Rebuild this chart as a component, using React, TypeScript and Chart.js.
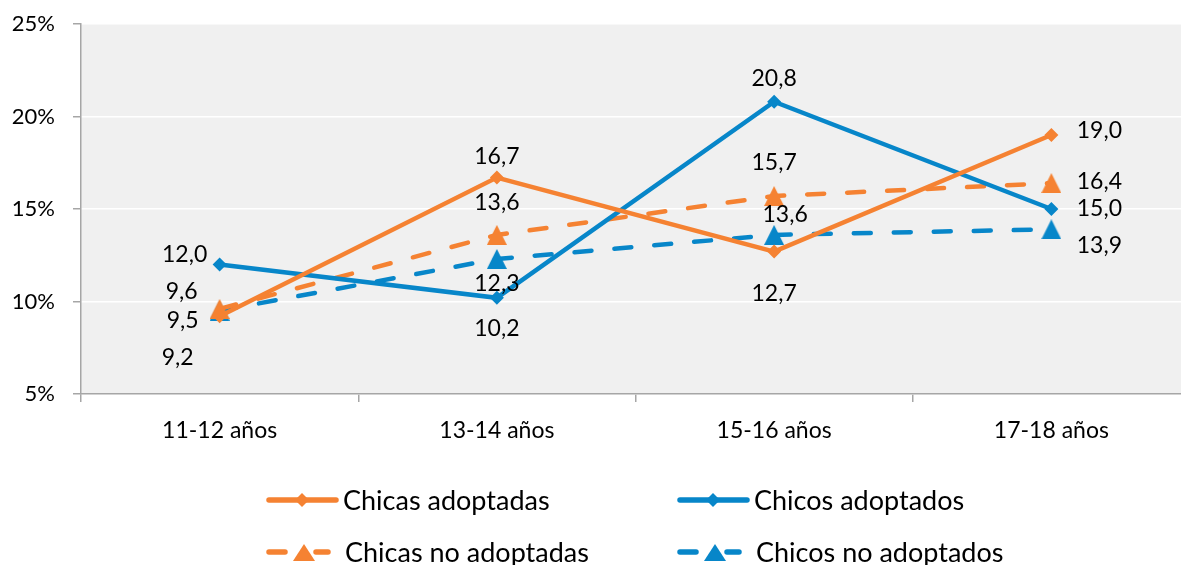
import React, { useEffect, useRef } from "react";
import { Chart, registerables } from "chart.js";

Chart.register(...registerables);

const categories = ["11-12 años", "13-14 años", "15-16 años", "17-18 años"];
const chicasAdoptadas = [9.2, 16.7, 12.7, 19.0];
const chicosAdoptados = [12.0, 10.2, 20.8, 15.0];
const chicasNoAdoptadas = [9.6, 13.6, 15.7, 16.4];
const chicosNoAdoptados = [9.5, 12.3, 13.6, 13.9];
const seriesNames = ["Chicas adoptadas", "Chicos adoptados", "Chicas no adoptadas", "Chicos no adoptados"];
const yMin = 5;
const yMax = 25;
const yStep = 5;

const ORANGE = "#F58232";
const BLUE = "#0786C9";
const FONT = "Lato, 'Noto Sans', sans-serif";

// label offsets (style): [dx, dy] per series per point
const labelOffsets = [
  [[-42, 41], [0, -21], [0, 42], [48, -4]],
  [[-35, -10], [0, 31], [0, -23], [48, 0]],
  [[-38, -17], [0, -32], [0, -33], [48, -2]],
  [[-37, 10], [0, 25], [11, -20], [48, 16]],
];

function triangleImage(color: string) {
  const c = document.createElement("canvas");
  c.width = 20;
  c.height = 20;
  const g = c.getContext("2d")!;
  g.fillStyle = color;
  g.beginPath();
  g.moveTo(10, 0);
  g.lineTo(20, 20);
  g.lineTo(0, 20);
  g.closePath();
  g.fill();
  return c;
}

const bgPlugin = {
  id: "plotBg",
  beforeDraw(chart: any) {
    const { ctx, chartArea } = chart;
    ctx.save();
    ctx.fillStyle = "#F0F0F0";
    ctx.fillRect(chartArea.left, chartArea.top, chartArea.right - chartArea.left, chartArea.bottom - chartArea.top);
    ctx.restore();
  },
};

const labelPlugin = {
  id: "valueLabels",
  afterDatasetsDraw(chart: any) {
    const ctx = chart.ctx;
    ctx.save();
    ctx.font = `23px ${FONT}`;
    ctx.fillStyle = "#000";
    ctx.textAlign = "center";
    ctx.textBaseline = "middle";
    chart.data.datasets.forEach((ds: any, i: number) => {
      const meta = chart.getDatasetMeta(i);
      meta.data.forEach((pt: any, j: number) => {
        const v = ds.data[j] as number;
        const [dx, dy] = labelOffsets[i][j];
        ctx.fillText(v.toFixed(1).replace(".", ","), pt.x + dx, pt.y + dy);
      });
    });
    ctx.restore();
  },
};

const legendPlugin = {
  id: "customLegend",
  afterDraw(chart: any) {
    const ctx = chart.ctx;
    const items = [
      { x: 266, y: 500, color: ORANGE, dashed: false, text: seriesNames[0] },
      { x: 677, y: 500, color: BLUE, dashed: false, text: seriesNames[1] },
      { x: 266, y: 552, color: ORANGE, dashed: true, text: seriesNames[2] },
      { x: 677, y: 552, color: BLUE, dashed: true, text: seriesNames[3] },
    ];
    ctx.save();
    items.forEach((it) => {
      ctx.strokeStyle = it.color;
      ctx.fillStyle = it.color;
      ctx.lineWidth = 5.5;
      ctx.lineCap = "round";
      ctx.beginPath();
      if (it.dashed) {
        ctx.moveTo(it.x + 3, it.y);
        ctx.lineTo(it.x + 19, it.y);
        ctx.moveTo(it.x + 50, it.y);
        ctx.lineTo(it.x + 62, it.y);
      } else {
        ctx.moveTo(it.x + 3, it.y);
        ctx.lineTo(it.x + 70, it.y);
      }
      ctx.stroke();
      ctx.beginPath();
      if (it.dashed) {
        const cx = it.x + 38;
        ctx.moveTo(cx, it.y - 8);
        ctx.lineTo(cx + 11, it.y + 9);
        ctx.lineTo(cx - 11, it.y + 9);
      } else {
        const cx = it.x + 36;
        const r = 7;
        ctx.moveTo(cx, it.y - r);
        ctx.lineTo(cx + r, it.y);
        ctx.lineTo(cx, it.y + r);
        ctx.lineTo(cx - r, it.y);
      }
      ctx.closePath();
      ctx.fill();
      ctx.fillStyle = "#000";
      ctx.font = `27px ${FONT}`;
      ctx.textAlign = "left";
      ctx.textBaseline = "alphabetic";
      ctx.fillText(it.text, it.x + (it.dashed ? 79 : 77), it.y + 10);
    });
    ctx.restore();
  },
};

export default function App() {
  const ref = useRef<HTMLCanvasElement>(null);
  useEffect(() => {
    if (!ref.current) return;
    const solid = (label: string, data: number[], color: string) => ({
      label,
      data,
      borderColor: color,
      backgroundColor: color,
      borderWidth: 4.5,
      pointStyle: "rectRot",
      pointRadius: 7,
      pointBorderWidth: 0,
      tension: 0,
    });
    const dashed = (label: string, data: number[], color: string) => ({
      label,
      data,
      borderColor: color,
      backgroundColor: color,
      borderWidth: 4.5,
      borderDash: [17, 23],
      borderCapStyle: "round",
      pointStyle: triangleImage(color),
      pointRadius: 10,
      pointBorderWidth: 0,
      tension: 0,
    });
    const chart = new Chart(ref.current, {
      type: "line",
      data: {
        labels: categories,
        datasets: [
          solid(seriesNames[0], chicasAdoptadas, ORANGE),
          solid(seriesNames[1], chicosAdoptados, BLUE),
          dashed(seriesNames[2], chicasNoAdoptadas, ORANGE),
          dashed(seriesNames[3], chicosNoAdoptados, BLUE),
        ] as any,
      },
      options: {
        animation: false,
        responsive: true,
        maintainAspectRatio: false,
        layout: { padding: { top: 24, right: 9, left: 0, bottom: 0 } },
        plugins: { legend: { display: false }, tooltip: { enabled: false } },
        scales: {
          x: {
            offset: true,
            grid: { offset: true, drawOnChartArea: false, color: "#A6A6A6", tickLength: 8, lineWidth: 1.5 },
            border: { color: "#A6A6A6", width: 1.5 },
            ticks: { color: "#000", font: { family: FONT, size: 23 }, padding: 15 },
            afterFit(scale: any) {
              scale.height = 171;
              scale.paddingLeft = 0;
              scale.paddingRight = 0;
            },
          },
          y: {
            min: yMin,
            max: yMax,
            ticks: {
              stepSize: yStep,
              color: "#000",
              font: { family: FONT, size: 22 },
              padding: 18,
              callback: (v: any) => `${v}%`,
            },
            grid: { color: "#FFFFFF", lineWidth: 1.5, tickColor: "#A6A6A6", tickLength: 8 },
            border: { color: "#A6A6A6", width: 1.5 },
            afterFit(scale: any) {
              scale.width = 81;
              scale.paddingTop = 0;
              scale.paddingBottom = 0;
            },
          },
        },
      },
      plugins: [bgPlugin, labelPlugin, legendPlugin],
    });
    return () => chart.destroy();
  }, []);
  return (
    <div style={{ position: "fixed", left: 0, top: 0, width: 1181, height: 565, overflow: "hidden", background: "#fff" }}>
      <div style={{ width: 1200, height: 565, position: "relative" }}>
        <canvas ref={ref} />
      </div>
    </div>
  );
}
